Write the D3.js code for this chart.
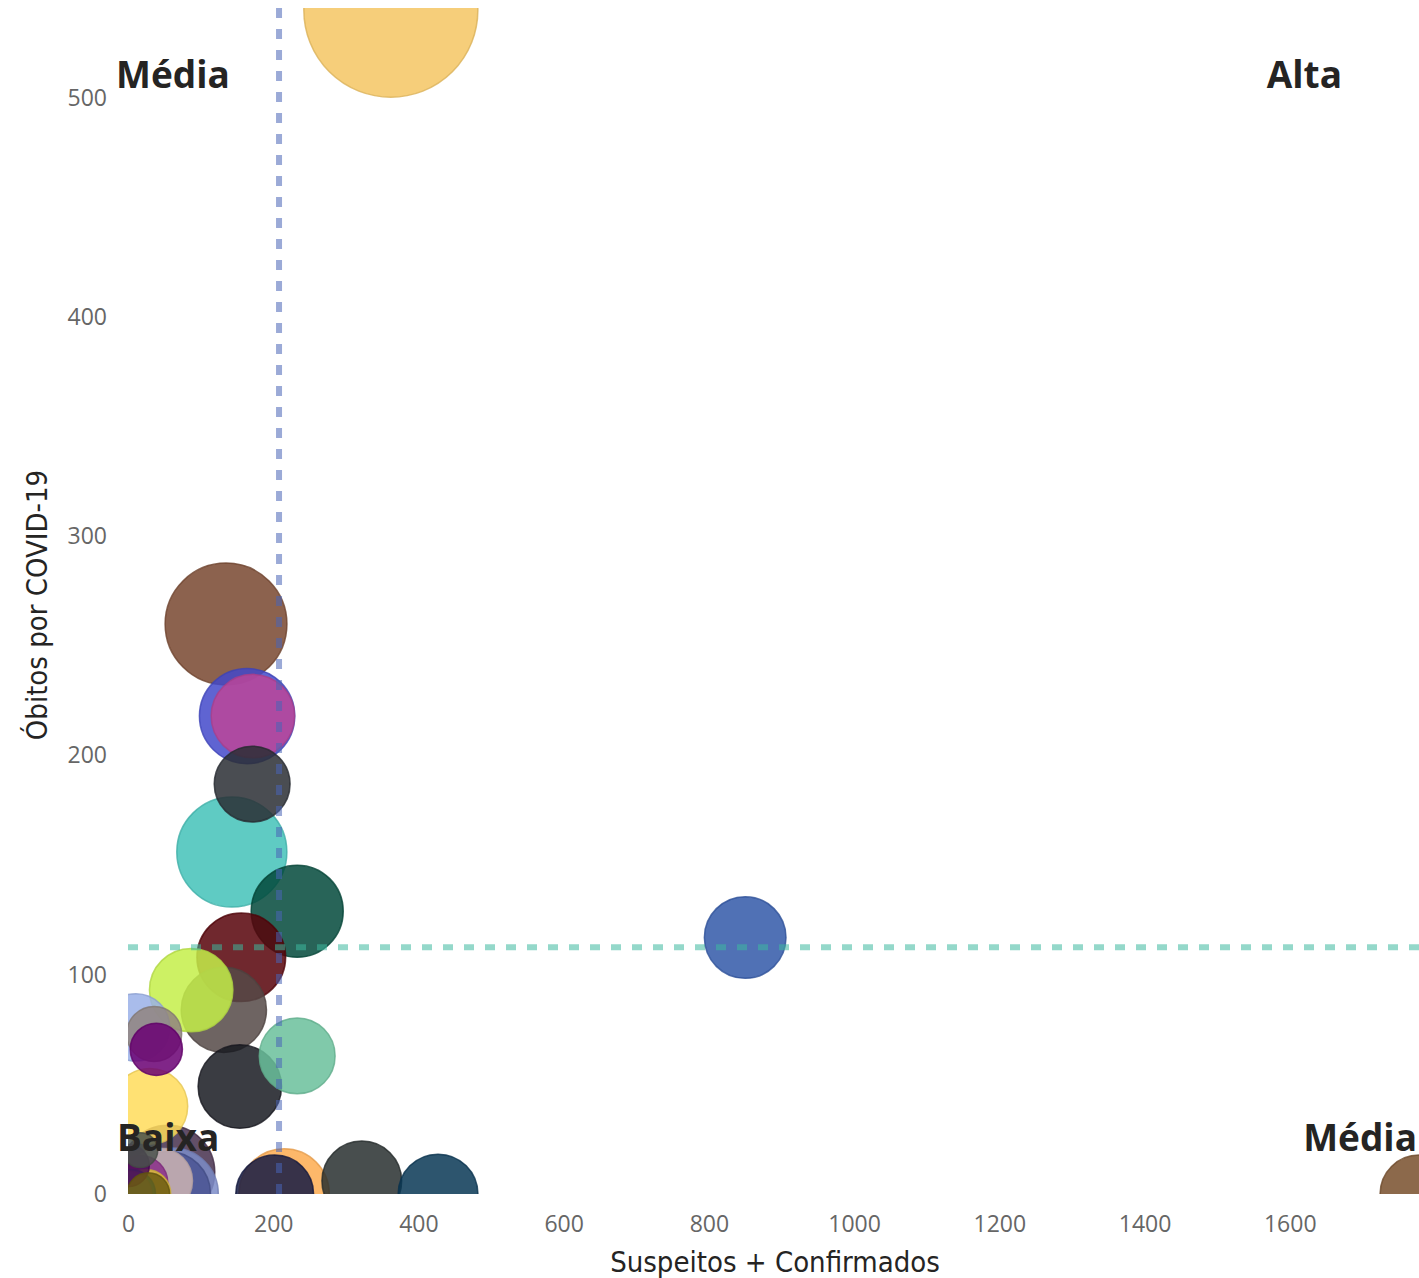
<!DOCTYPE html>
<html>
<head>
<meta charset="utf-8">
<script src="https://cdn.jsdelivr.net/npm/d3@7"></script>
<style>
  html, body { margin: 0; padding: 0; background: #fff; }
  svg { display: block; }
</style>
</head>
<body>
<div id="chart"></div>
<script>
// values
const cases  = [362, 135, 164, 172, 171, 143, 233, 156, 87, 132, 11, 36, 39, 233, 154, 30, 202, 215, 322, 427, 850, 1778,
                55, 61, 55, 44, 17, 0, 17, 28, 25, 4, 1];
const deaths = [540, 260, 218, 218, 187, 156, 129, 108, 93, 84, 76, 73, 66, 63, 49, 40, 0, 0, 6, 0, 117, 0,
                10, 0, 0, 6, 20, 13, 5, 0, 0, 0, 0];
const sizes  = [100, 49, 30, 23, 19, 40, 28, 26, 23, 24, 15, 10, 9, 19, 23, 19, 20, 27, 21, 21, 22, 20,
                29, 28, 24, 14, 4, 6, 10, 6, 8, 8, 7];
const colors = ['#F4C663', '#78472F', '#4349CA', '#BC4599', '#2A2E34', '#43C2B9', '#02493B', '#570209', '#C4EE49', '#554947',
                '#9AB0E8', '#90847F', '#6A0073', '#6ABF9B', '#181A21', '#FFDC5B', '#141A43', '#FDAB50', '#282F2F', '#083755',
                '#3158A8', '#784F2C',
                '#47304D', '#7D8CC8', '#4A5593', '#CDB4B2', '#4A524C', '#4A0A55', '#8A2E88', '#6B5B10', '#E2C23E', '#147E8C', '#7A7A7A'];

const xTicks = [0, 200, 400, 600, 800, 1000, 1200, 1400, 1600];
const yTicks = [0, 100, 200, 300, 400, 500];
const avgCases = 208;
const avgDeaths = 112.6;
const quadrants = [
    { label: 'Média', corner: 'tl' },
    { label: 'Alta', corner: 'tr' },
    { label: 'Baixa', corner: 'bl' },
    { label: 'Média', corner: 'br' }
];

const W = 1419, H = 1278;
const plot = { left: 128, right: 1419, top: 8, bottom: 1194 };

const svg = d3.select('#chart').append('svg')
    .attr('width', W)
    .attr('height', H);

const x = d3.scaleLinear().domain([0, 1778]).range([plot.left, plot.right]);
const y = d3.scaleLinear().domain([0, 541]).range([plot.bottom, plot.top]);
const r = d3.scaleSqrt().domain([0, 100]).range([0, 87]);

const tickFont = '"Segoe UI", "Open Sans", sans-serif';

// x axis
const xAxis = svg.append('g')
    .attr('transform', `translate(0,${plot.bottom})`)
    .call(d3.axisBottom(x).tickValues(xTicks).tickFormat(d3.format('d')).tickSize(0).tickPadding(22));
xAxis.select('.domain').remove();
xAxis.selectAll('text')
    .attr('fill', '#666666')
    .style('font-family', tickFont)
    .style('font-size', '23px');

// y axis
const yAxis = svg.append('g')
    .attr('transform', `translate(107,0)`)
    .call(d3.axisLeft(y).tickValues(yTicks).tickSize(0).tickPadding(0));
yAxis.select('.domain').remove();
yAxis.selectAll('text')
    .attr('fill', '#666666')
    .style('font-family', tickFont)
    .style('font-size', '23px');

// axis titles
const titleFont = '"DejaVu Sans Condensed", "DejaVu Sans", sans-serif';
svg.append('text')
    .attr('x', 775)
    .attr('y', 1272)
    .attr('text-anchor', 'middle')
    .attr('fill', '#252423')
    .style('font-family', titleFont)
    .style('font-stretch', 'condensed')
    .style('font-size', '29px')
    .text('Suspeitos + Confirmados');

svg.append('text')
    .attr('transform', 'translate(47,605) rotate(-90)')
    .attr('text-anchor', 'middle')
    .attr('fill', '#252423')
    .style('font-family', titleFont)
    .style('font-stretch', 'condensed')
    .style('font-size', '29px')
    .text('Óbitos por COVID-19');

// clip bubbles to the plot area
svg.append('clipPath')
    .attr('id', 'plot-clip')
    .append('rect')
    .attr('x', plot.left)
    .attr('y', plot.top)
    .attr('width', plot.right - plot.left)
    .attr('height', plot.bottom - plot.top);

const points = cases.map((c, i) => ({ cases: c, deaths: deaths[i], size: sizes[i], color: colors[i] }))
    .sort((a, b) => b.size - a.size);

const bubbles = svg.append('g').attr('clip-path', 'url(#plot-clip)');
bubbles.selectAll('circle')
    .data(points)
    .enter()
    .append('circle')
    .attr('cx', d => x(d.cases))
    .attr('cy', d => y(d.deaths))
    .attr('r', d => r(d.size))
    .attr('fill', d => d.color)
    .attr('fill-opacity', 0.85)
    .attr('stroke', d => d3.color(d.color).darker(0.3))
    .attr('stroke-opacity', 0.8)
    .attr('stroke-width', 1.5);

// average lines
const lines = svg.append('g').attr('clip-path', 'url(#plot-clip)');
lines.append('line')
    .attr('x1', x(avgCases)).attr('x2', x(avgCases))
    .attr('y1', plot.top).attr('y2', plot.bottom)
    .attr('stroke', '#4964B6')
    .attr('stroke-opacity', 0.55)
    .attr('stroke-width', 6)
    .attr('stroke-dasharray', '10,11');

lines.append('line')
    .attr('x1', plot.left).attr('x2', plot.right)
    .attr('y1', y(avgDeaths)).attr('y2', y(avgDeaths))
    .attr('stroke', '#3DB89E')
    .attr('stroke-opacity', 0.55)
    .attr('stroke-width', 6)
    .attr('stroke-dasharray', '10,11');

// quadrant labels
const labelPos = {
    tl: { x: 116, y: 88, anchor: 'start' },
    tr: { x: 1342, y: 88, anchor: 'end' },
    bl: { x: 117, y: 1151, anchor: 'start' },
    br: { x: 1417, y: 1151, anchor: 'end' }
};
svg.append('g').selectAll('text')
    .data(quadrants)
    .enter()
    .append('text')
    .attr('x', d => labelPos[d.corner].x)
    .attr('y', d => labelPos[d.corner].y)
    .attr('text-anchor', d => labelPos[d.corner].anchor)
    .attr('fill', '#252423')
    .style('font-family', '"Segoe UI", "Open Sans", sans-serif')
    .style('font-weight', 'bold')
    .style('font-size', '37px')
    .text(d => d.label);
</script>
</body>
</html>
